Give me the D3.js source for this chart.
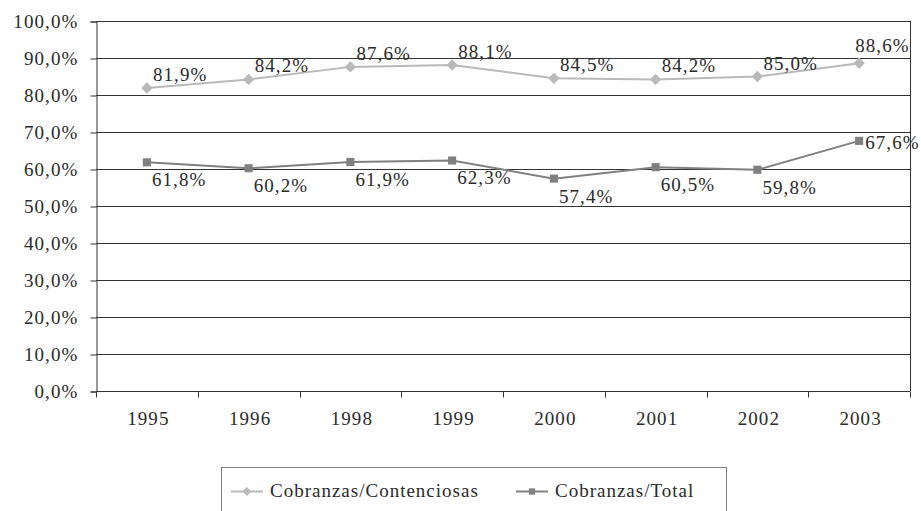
<!DOCTYPE html>
<html>
<head>
<meta charset="utf-8">
<script src="https://cdn.jsdelivr.net/npm/d3@7"></script>
<style>
  body { margin: 0; background: #fff; }
  svg text { font-family: "Liberation Serif", "DejaVu Serif", serif; fill: #2a2a2a; }
</style>
</head>
<body>
<div id="chart"></div>
<script>
// datos del gráfico
const anios = ["1995", "1996", "1998", "1999", "2000", "2001", "2002", "2003"];
const contenciosas = [81.9, 84.2, 87.6, 88.1, 84.5, 84.2, 85.0, 88.6];
const total = [61.8, 60.2, 61.9, 62.3, 57.4, 60.5, 59.8, 67.6];
const yTicks = [0, 10, 20, 30, 40, 50, 60, 70, 80, 90, 100];
const nombres = ["Cobranzas/Contenciosas", "Cobranzas/Total"];

const width = 921, height = 511;
const margin = { left: 96, right: 11, top: 21, bottom: 120 };
const fs = 19, ls = "1.1px";

const svg = d3.select("#chart").append("svg")
    .attr("width", width)
    .attr("height", height);

const x = d3.scaleBand()
    .domain(anios)
    .range([margin.left, width - margin.right]);

const y = d3.scaleLinear()
    .domain([0, 100])
    .range([height - margin.bottom, margin.top]);

const fmt = v => d3.format(".1f")(v).replace(".", ",") + "%";

// líneas de la grilla
svg.append("g")
    .selectAll("line")
    .data(yTicks)
    .enter()
    .append("line")
    .attr("x1", margin.left)
    .attr("x2", width - margin.right)
    .attr("y1", d => Math.round(y(d)) + 0.5)
    .attr("y2", d => Math.round(y(d)) + 0.5)
    .attr("stroke", "#333")
    .attr("stroke-width", 1);

// borde derecho
svg.append("line")
    .attr("x1", width - margin.right + 0.5)
    .attr("x2", width - margin.right + 0.5)
    .attr("y1", y(100))
    .attr("y2", y(0))
    .attr("stroke", "#333");

// eje Y
const yAxis = svg.append("g")
    .attr("transform", `translate(${margin.left + 0.5},0.5)`)
    .call(d3.axisLeft(y).tickValues(yTicks).tickSize(6).tickFormat(fmt).tickPadding(12));
yAxis.select(".domain").attr("stroke", "#333");
yAxis.selectAll(".tick line").attr("stroke", "#333");
yAxis.selectAll("text")
    .attr("font-size", fs)
    .attr("letter-spacing", ls)
    .attr("fill", "#2a2a2a");

// eje X: marcas entre categorías
const xAxis = svg.append("g")
    .attr("transform", `translate(0.5,${Math.round(y(0)) + 0.5})`);
xAxis.append("g")
    .selectAll("line")
    .data(anios.concat(["fin"]))
    .enter()
    .append("line")
    .attr("x1", (d, i) => Math.round(margin.left + i * x.bandwidth()))
    .attr("x2", (d, i) => Math.round(margin.left + i * x.bandwidth()))
    .attr("y1", 0)
    .attr("y2", 6)
    .attr("stroke", "#333");
xAxis.selectAll("text")
    .data(anios)
    .enter()
    .append("text")
    .attr("x", d => x(d) + x.bandwidth() / 2 + 1)
    .attr("y", 33)
    .attr("text-anchor", "middle")
    .attr("font-size", fs)
    .attr("letter-spacing", ls)
    .text(d => d);

const cx = d => x(d) + x.bandwidth() / 2;

const series = [
    { nombre: nombres[0], valores: contenciosas, color: "#b9b9b9", forma: d3.symbolSquare, tam: 64, rot: 45 },
    { nombre: nombres[1], valores: total, color: "#808080", forma: d3.symbolSquare, tam: 66, rot: 0 }
];

const line = d3.line()
    .x((d, i) => cx(anios[i]))
    .y(d => y(d));

series.forEach((s, k) => {
    svg.append("path")
        .datum(s.valores)
        .attr("d", line)
        .attr("fill", "none")
        .attr("stroke", s.color)
        .attr("stroke-width", 2);

    svg.append("g")
        .selectAll("path")
        .data(s.valores)
        .enter()
        .append("path")
        .attr("d", d3.symbol().type(s.forma).size(s.tam))
        .attr("transform", (d, i) => `translate(${cx(anios[i])},${y(d)}) rotate(${s.rot})`)
        .attr("fill", s.color);

    // etiquetas de valores
    svg.append("g")
        .selectAll("text")
        .data(s.valores)
        .enter()
        .append("text")
        .attr("font-size", fs)
        .attr("letter-spacing", ls)
        .attr("x", (d, i) => {
            const last = i === s.valores.length - 1;
            if (k === 0) return cx(anios[i]) + (last ? -4 : 6);
            return cx(anios[i]) + (last ? 6 : 5);
        })
        .attr("y", (d, i) => {
            const last = i === s.valores.length - 1;
            if (k === 0) return y(d) - (last ? 11 : 7);
            return y(d) + (last ? 8 : 24);
        })
        .text(d => fmt(d));
});

// leyenda
const leg = svg.append("g");
leg.append("rect")
    .attr("x", 221.5)
    .attr("y", 467.5)
    .attr("width", 505)
    .attr("height", 60)
    .attr("fill", "none")
    .attr("stroke", "#808080");

series.forEach((s, k) => {
    const g = leg.append("g");
    const x0 = k === 0 ? 231 : 516;
    g.append("line")
        .attr("x1", x0).attr("x2", x0 + 32)
        .attr("y1", 491.5).attr("y2", 491.5)
        .attr("stroke", s.color).attr("stroke-width", 2);
    g.append("path")
        .attr("d", d3.symbol().type(s.forma).size(s.tam * 0.6))
        .attr("transform", `translate(${x0 + 16},491.5) rotate(${s.rot})`)
        .attr("fill", s.color);
    g.append("text")
        .attr("x", x0 + 39)
        .attr("y", 497)
        .attr("font-size", fs)
        .attr("letter-spacing", "1px")
        .text(s.nombre);
});
</script>
</body>
</html>
